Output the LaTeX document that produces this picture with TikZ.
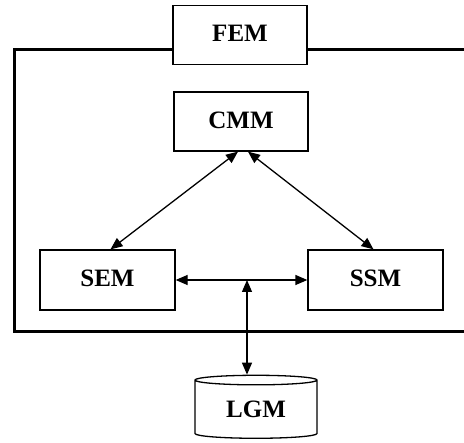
\documentclass[tikz,border=0pt]{standalone}
\usepackage{fontspec}
\setmainfont{Liberation Serif}
\usetikzlibrary{positioning, shapes.geometric, arrows.meta}

\tikzset{
    modbox/.style={draw, line width=1.3pt, minimum width=134pt, minimum height=59pt,
        inner sep=0pt, font=\fontsize{25}{27}\selectfont\bfseries},
    dblarrow/.style={line width=1.3pt, {Triangle[length=12pt,width=10pt]}-{Triangle[length=12pt,width=10pt]}},
}

\begin{document}
\begin{tikzpicture}[x=1pt, y=-1pt]
    \useasboundingbox (0,0) rectangle (464,443);

    % --- Modules ---
    \node[modbox] (fem) at (240,35) {\raisebox{3pt}{FEM}};
    \node[modbox] (cmm) at (241,121.5) {\raisebox{3pt}{CMM}};
    \node[modbox, minimum width=135pt, minimum height=60pt] (sem) at (107.5,280) {\raisebox{3pt}{SEM}};
    \node[modbox, minimum width=135pt, minimum height=60pt] (ssm) at (375.5,280) {\raisebox{3pt}{SSM}};

    % --- Storage ---
    \node[cylinder, shape border rotate=90, draw, line width=1.3pt, aspect=0.16,
        minimum width=122pt, minimum height=63pt, inner sep=0pt,
        font=\fontsize{25}{27}\selectfont\bfseries] (lgm) at (256,409.5) {LGM};

    % --- Outer frame ---
    \draw[line width=3pt] (fem.west |- 0,50) -- (14,50) -- (14,332) -- (470,332);
    \draw[line width=3pt] (fem.east |- 0,50) -- (470,50);

    % --- Connectors ---
    \coordinate (junc) at (247,280);
    \draw[dblarrow] ([xshift=-3pt]cmm.south) -- ([xshift=3pt]sem.north);
    \draw[dblarrow] ([xshift=7pt]cmm.south) -- ([xshift=-2pt]ssm.north);
    \draw[dblarrow] (sem.east) -- (ssm.west);
    \draw[dblarrow] (junc) -- (junc |- lgm.north);
\end{tikzpicture}
\end{document}
